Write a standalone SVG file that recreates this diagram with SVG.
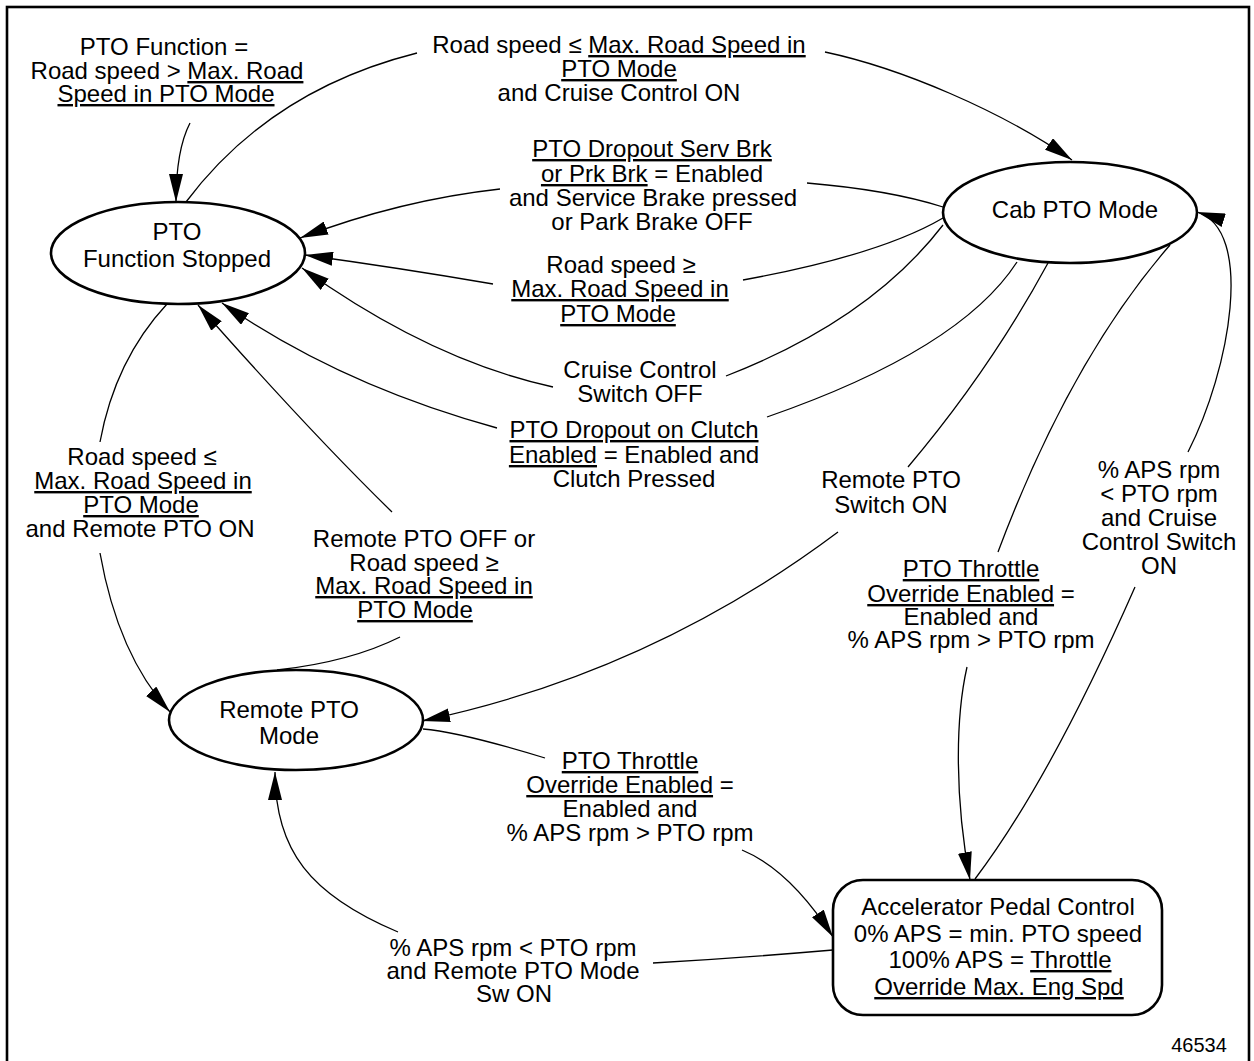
<svg xmlns="http://www.w3.org/2000/svg" width="1254" height="1061" viewBox="0 0 1254 1061">
<defs>
<style>
text { font-family: "Liberation Sans", Arial, sans-serif; font-size: 24px; fill: #000; text-anchor: middle; }
.u { text-decoration: underline; }
.node { fill: #fff; stroke: #000; stroke-width: 2.6; }
.edge { fill: none; stroke: #000; stroke-width: 1.3; }
.arr { marker-end: url(#ah); }
.fig { font-size: 20px; }
</style>
<marker id="ah" markerUnits="userSpaceOnUse" markerWidth="28" markerHeight="14" viewBox="0 0 28 14" refX="28" refY="7" orient="auto"><path d="M0,0 L28,7 L0,14 z" fill="#000"/></marker>
</defs>
<rect x="0" y="0" width="1254" height="1061" fill="#fff"/>
<rect x="7" y="7" width="1242" height="1070" fill="none" stroke="#000" stroke-width="2.6"/>

<g id="connectors">
<path class="edge arr" d="M190,123 Q176,150 176,202"/>
<path class="edge" d="M186,202 Q270,90 417,53"/>
<path class="edge arr" d="M825,52 C900,68 1000,110 1072,160"/>
<path class="edge arr" d="M500,189 Q400,200 300,238"/>
<path class="edge" d="M943,207 Q890,190 807,183"/>
<path class="edge arr" d="M493,284 Q400,268 305,255"/>
<path class="edge" d="M943,218 Q880,255 743,280"/>
<path class="edge arr" d="M553,387 Q430,360 302,268"/>
<path class="edge" d="M943,225 Q870,320 726,376"/>
<path class="edge arr" d="M497,428 Q340,385 222,303"/>
<path class="edge" d="M1017,262 Q960,350 767,417"/>
<path class="edge arr" d="M392,512 Q310,432 198,305"/>
<path class="edge" d="M400,637 Q350,662 277,670"/>
<path class="edge" d="M167,304 Q115,360 100,442"/>
<path class="edge arr" d="M100,553 Q118,655 170,712"/>
<path class="edge" d="M1048,263 Q990,370 908,467"/>
<path class="edge arr" d="M838,532 Q650,673 422,721"/>
<path class="edge" d="M423,729 Q460,732 545,758"/>
<path class="edge arr" d="M742,850 Q790,870 833,937"/>
<path class="edge" d="M1170,245 Q1070,360 998,552"/>
<path class="edge arr" d="M967,667 C955,720 955,800 970,880"/>
<path class="edge" d="M975,879 Q1050,780 1135,587"/>
<path class="edge arr" d="M1188,452 C1230,370 1255,230 1197,212"/>
<path class="edge" d="M833,950 Q740,958 653,963"/>
<path class="edge arr" d="M398,932 C310,895 275,850 275,772"/>

<g id="edge-labels">
<text x="164" y="55">PTO Function =</text>
<text x="167" y="79">Road speed &gt; <tspan class="u">Max. Road</tspan></text>
<text x="166" y="102"><tspan class="u">Speed in PTO Mode</tspan></text>

<text x="619" y="53">Road speed ≤ <tspan class="u">Max. Road Speed in</tspan></text>
<text x="619" y="77"><tspan class="u">PTO Mode</tspan></text>
<text x="619" y="101">and Cruise Control ON</text>

<text x="652" y="157"><tspan class="u">PTO Dropout Serv Brk</tspan></text>
<text x="652" y="182"><tspan class="u">or Prk Brk</tspan> = Enabled</text>
<text x="653" y="206">and Service Brake pressed</text>
<text x="652" y="230">or Park Brake OFF</text>

<text x="621" y="273">Road speed ≥</text>
<text x="620" y="297"><tspan class="u">Max. Road Speed in</tspan></text>
<text x="618" y="322"><tspan class="u">PTO Mode</tspan></text>

<text x="640" y="378">Cruise Control</text>
<text x="640" y="402">Switch OFF</text>

<text x="634" y="438"><tspan class="u">PTO Dropout on Clutch</tspan></text>
<text x="634" y="463"><tspan class="u">Enabled</tspan> = Enabled and</text>
<text x="634" y="487">Clutch Pressed</text>

<text x="424" y="547">Remote PTO OFF or</text>
<text x="424" y="571">Road speed ≥</text>
<text x="424" y="594"><tspan class="u">Max. Road Speed in</tspan></text>
<text x="415" y="618"><tspan class="u">PTO Mode</tspan></text>

<text x="142" y="465">Road speed ≤</text>
<text x="143" y="489"><tspan class="u">Max. Road Speed in</tspan></text>
<text x="141" y="513"><tspan class="u">PTO Mode</tspan></text>
<text x="140" y="537">and Remote PTO ON</text>

<text x="891" y="488">Remote PTO</text>
<text x="891" y="513">Switch ON</text>

<text x="630" y="769"><tspan class="u">PTO Throttle</tspan></text>
<text x="630" y="793"><tspan class="u">Override Enabled</tspan> =</text>
<text x="630" y="817">Enabled and</text>
<text x="630" y="841">% APS rpm &gt; PTO rpm</text>

<text x="971" y="577"><tspan class="u">PTO Throttle</tspan></text>
<text x="971" y="602"><tspan class="u">Override Enabled</tspan> =</text>
<text x="971" y="625">Enabled and</text>
<text x="971" y="648">% APS rpm &gt; PTO rpm</text>

<text x="1159" y="478">% APS rpm</text>
<text x="1159" y="502">&lt; PTO rpm</text>
<text x="1159" y="526">and Cruise</text>
<text x="1159" y="550">Control Switch</text>
<text x="1159" y="574">ON</text>

<text x="513" y="956">% APS rpm &lt; PTO rpm</text>
<text x="513" y="979">and Remote PTO Mode</text>
<text x="514" y="1002">Sw ON</text>
</g>
</g>

<g id="node-pto-function-stopped">
<ellipse class="node" cx="178" cy="253" rx="127" ry="51"/>
<text x="177" y="240">PTO</text>
<text x="177" y="267">Function Stopped</text>
</g>

<g id="node-cab-pto-mode">
<ellipse class="node" cx="1070" cy="212.5" rx="127" ry="50.5"/>
<text x="1075" y="218">Cab PTO Mode</text>
</g>

<g id="node-remote-pto-mode">
<ellipse class="node" cx="296" cy="720" rx="127" ry="50"/>
<text x="289" y="718">Remote PTO</text>
<text x="289" y="744">Mode</text>
</g>

<g id="node-accelerator-pedal-control">
<rect class="node" x="833" y="880" width="329" height="135" rx="30" ry="30"/>
<text x="998" y="915">Accelerator Pedal Control</text>
<text x="998" y="942">0% APS = min. PTO speed</text>
<text x="1000" y="968">100% APS = <tspan class="u">Throttle</tspan></text>
<text x="999" y="995"><tspan class="u">Override Max. Eng Spd</tspan></text>
</g>

<text class="fig" x="1199" y="1052">46534</text>
</svg>
